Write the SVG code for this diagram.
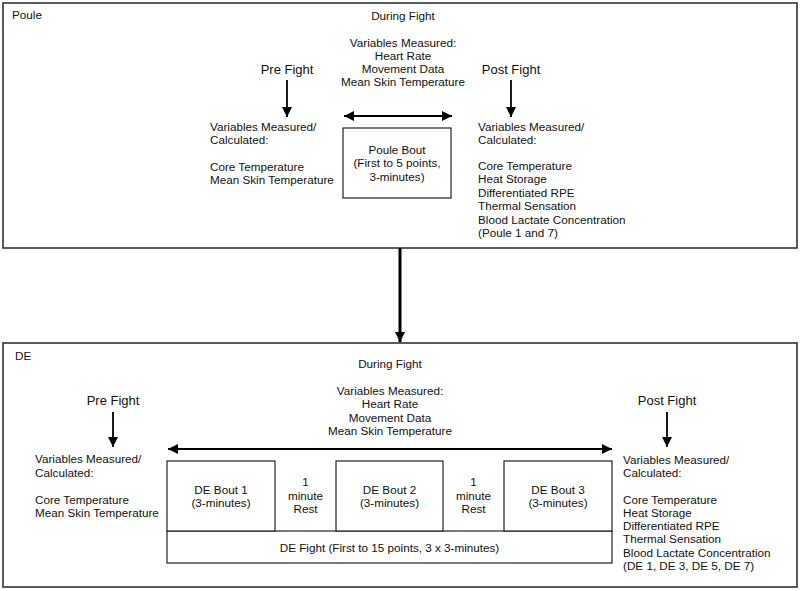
<svg xmlns="http://www.w3.org/2000/svg" width="800" height="591" viewBox="0 0 800 591">
<defs>
<style>
text{font-family:"Liberation Sans",Arial,sans-serif;font-size:11.7px;fill:#111}
.big{font-size:13px}
.c{text-anchor:middle}
.frame{fill:#fff;stroke:#333;stroke-width:1.6}
.box{fill:#fff;stroke:#222;stroke-width:1.2}
.arr{stroke:#000;stroke-width:1.8;fill:none}
</style>
<marker id="ah" viewBox="0 0 10 10" refX="10" refY="5" markerWidth="11" markerHeight="10" markerUnits="userSpaceOnUse" orient="auto-start-reverse">
<path d="M0,0 L10,5 L0,10 Z" fill="#000"/>
</marker>
<marker id="ahb" viewBox="0 0 10 10" refX="10" refY="5" markerWidth="10" markerHeight="11" markerUnits="userSpaceOnUse" orient="auto">
<path d="M0,0 L10,5 L0,10 Z" fill="#000"/>
</marker>
</defs>
<rect width="800" height="591" fill="#fff"/>

<g id="poule">
<rect class="frame" x="3" y="3" width="794" height="245"/>
<text x="12" y="19">Poule</text>
<text class="c" x="403" y="20">During Fight</text>
<text class="c" x="403" y="47">Variables Measured:</text>
<text class="c" x="403" y="60">Heart Rate</text>
<text class="c" x="403" y="73">Movement Data</text>
<text class="c" x="403" y="86">Mean Skin Temperature</text>
<text class="big c" x="287" y="74">Pre Fight</text>
<text class="big c" x="511" y="74">Post Fight</text>
<text x="210" y="131">Variables Measured/</text>
<text x="210" y="144">Calculated:</text>
<text x="210" y="171">Core Temperature</text>
<text x="210" y="184">Mean Skin Temperature</text>
<text x="478" y="131">Variables Measured/</text>
<text x="478" y="144">Calculated:</text>
<text x="478" y="170">Core Temperature</text>
<text x="478" y="183">Heat Storage</text>
<text x="478" y="197">Differentiated RPE</text>
<text x="478" y="210">Thermal Sensation</text>
<text x="478" y="224">Blood Lactate Concentration</text>
<text x="478" y="237">(Poule 1 and 7)</text>
</g>

<g id="poule-bout">
<rect class="box" x="343" y="128" width="108" height="70"/>
<text class="c" x="397" y="154">Poule Bout</text>
<text class="c" x="397" y="167">(First to 5 points,</text>
<text class="c" x="397" y="181">3-minutes)</text>
</g>

<g id="de">
<rect class="frame" x="3" y="343" width="794" height="244"/>
<text x="15" y="360">DE</text>
<text class="c" x="390" y="368">During Fight</text>
<text class="c" x="390" y="395">Variables Measured:</text>
<text class="c" x="390" y="408">Heart Rate</text>
<text class="c" x="390" y="422">Movement Data</text>
<text class="c" x="390" y="435">Mean Skin Temperature</text>
<text class="big c" x="113" y="405">Pre Fight</text>
<text class="big c" x="667" y="405">Post Fight</text>
<text x="35" y="463">Variables Measured/</text>
<text x="35" y="477">Calculated:</text>
<text x="35" y="504">Core Temperature</text>
<text x="35" y="517">Mean Skin Temperature</text>
<text x="623" y="464">Variables Measured/</text>
<text x="623" y="477">Calculated:</text>
<text x="623" y="504">Core Temperature</text>
<text x="623" y="517">Heat Storage</text>
<text x="623" y="530">Differentiated RPE</text>
<text x="623" y="543">Thermal Sensation</text>
<text x="623" y="557">Blood Lactate Concentration</text>
<text x="623" y="570">(DE 1, DE 3, DE 5, DE 7)</text>
</g>

<g id="de-fight">
<rect class="box" x="167" y="531" width="445" height="32"/>
<text class="c" x="389.5" y="552">DE Fight (First to 15 points, 3 x 3-minutes)</text>
</g>
<g id="de-bout-1">
<rect class="box" x="167" y="461" width="108" height="70"/>
<text class="c" x="221" y="494">DE Bout 1</text>
<text class="c" x="221" y="507">(3-minutes)</text>
</g>
<g id="rest-1">
<text class="c" x="305.5" y="486">1</text>
<text class="c" x="305.5" y="500">minute</text>
<text class="c" x="305.5" y="513">Rest</text>
</g>
<g id="de-bout-2">
<rect class="box" x="336" y="461" width="107" height="70"/>
<text class="c" x="389.5" y="494">DE Bout 2</text>
<text class="c" x="389.5" y="507">(3-minutes)</text>
</g>
<g id="rest-2">
<text class="c" x="473.5" y="486">1</text>
<text class="c" x="473.5" y="500">minute</text>
<text class="c" x="473.5" y="513">Rest</text>
</g>
<g id="de-bout-3">
<rect class="box" x="504" y="461" width="108" height="70"/>
<text class="c" x="558" y="494">DE Bout 3</text>
<text class="c" x="558" y="507">(3-minutes)</text>
</g>

<g id="connectors">
<line class="arr" x1="287" y1="80" x2="287" y2="117" marker-end="url(#ah)"/>
<line class="arr" x1="511" y1="80" x2="511" y2="117" marker-end="url(#ah)"/>
<line class="arr" x1="344" y1="116" x2="452" y2="116" marker-start="url(#ah)" marker-end="url(#ah)"/>
<line class="arr" x1="113" y1="412" x2="113" y2="447" marker-end="url(#ah)"/>
<line class="arr" x1="667" y1="412" x2="667" y2="447" marker-end="url(#ah)"/>
<line class="arr" x1="168" y1="449" x2="612" y2="449" marker-start="url(#ah)" marker-end="url(#ah)"/>
<line x1="400" y1="248" x2="400" y2="342" stroke="#000" stroke-width="3" marker-end="url(#ahb)"/>
</g>
</svg>
